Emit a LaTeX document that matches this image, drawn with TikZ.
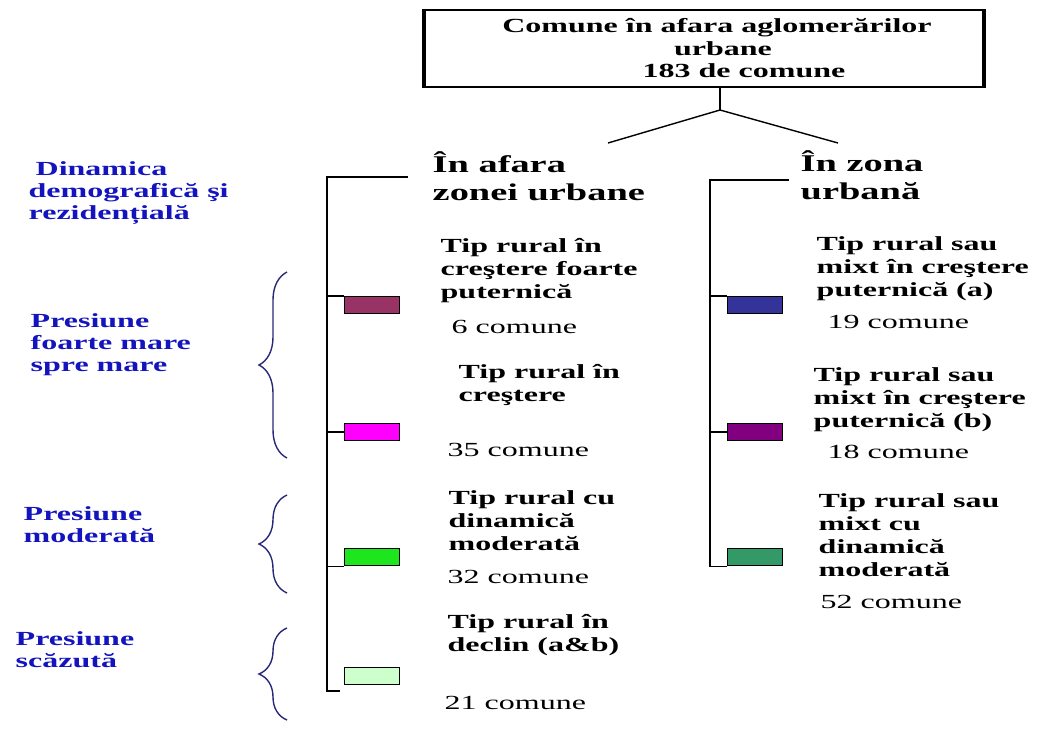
\documentclass[tikz,border=0pt]{standalone}
\usepackage{fontspec}
\setmainfont{Liberation Serif}[FakeStretch=1.6]
\usetikzlibrary{decorations.pathreplacing}
\definecolor{presblue}{RGB}{20,20,190}
\definecolor{bracecol}{RGB}{40,40,120}
\definecolor{cmaro}{RGB}{153,51,102}
\definecolor{cmag}{RGB}{255,0,255}
\definecolor{cgreen}{RGB}{30,230,30}
\definecolor{clight}{RGB}{204,255,204}
\definecolor{cblue}{RGB}{51,51,153}
\definecolor{cpurp}{RGB}{128,0,128}
\definecolor{csea}{RGB}{51,153,102}
\tikzset{tip/.style={align=left,anchor=west,inner sep=0pt,font=\bfseries\fontsize{20}{23}\selectfont}}
\tikzset{nr/.style={anchor=west,inner sep=0pt,font=\fontsize{20}{23}\selectfont}}
\tikzset{head/.style={align=left,anchor=west,inner sep=0pt,font=\bfseries\fontsize{24}{28}\selectfont}}
\tikzset{pres/.style={align=left,anchor=west,inner sep=0pt,text=presblue,font=\bfseries\fontsize{20}{22}\selectfont}}
\tikzset{leg/.style={draw=black,line width=1.2pt,minimum width=55pt,minimum height=17pt,inner sep=0pt,anchor=north west}}
\tikzset{acc/.style={decorate,decoration={brace,amplitude=28pt},draw=bracecol,line width=1.4pt}}
\tikzset{topbox/.style={draw,line width=1.6pt,minimum width=558pt,minimum height=77pt,inner sep=0pt,align=center,font=\bfseries\fontsize{20}{22.5}\selectfont}}

\begin{document}
\begin{tikzpicture}[x=1pt,y=-1pt,line width=1.4pt]
        \useasboundingbox (0,0) rectangle (1046,729);

        \node[topbox] (box) at (704,48.5) {\hspace*{26pt}Comune în afara aglomerărilor\\ \hspace*{38pt}urbane\\ \hspace*{80pt}183 de comune};
        \draw[line width=3.5pt] (box.north west) -- (box.south west);
        \draw[line width=3.5pt] (box.north east) -- (box.south east);

        \coordinate (fork) at (720,110);
        \coordinate (e1) at (608,143);
        \coordinate (e2) at (838,143);
        \draw[line width=2pt] (fork |- box.south) -- (fork);
        \draw (e1) -- (fork) -- (e2);

        \node[head] (h1) at (432,176) {În afara\\zonei urbane};
        \node[head] (h2) at (800,175) {În zona\\urbană};

        % left column
        \coordinate (lh) at (408,177);
        \coordinate (lt) at (327,177);
        \coordinate (lb) at (327,691);
        \node[leg,fill=cmaro] (k1) at (344,296) {};
        \node[leg,fill=cmag] (k2) at (344,423) {};
        \node[leg,fill=cgreen] (k3) at (344,548) {};
        \node[leg,fill=clight] (k4) at (344,667) {};
        \draw (lh) -- (lt) -- (lb) -- ++(13,0);
        \draw (lt |- k1.north west) -- (k1.north west);
        \draw (lt |- k2.west) -- (k2.west);
        \draw (lt |- k3.south west) -- (k3.south west);

        \node[tip] (t1) at (440,271) {Tip rural în\\creştere foarte\\puternică};
        \node[nr] (n1) at (451,327) {6 comune};
        \node[tip] (t2) at (458,385) {Tip rural în\\creştere};
        \node[nr] (n2) at (447,450) {35 comune};
        \node[tip] (t3) at (448,521) {Tip rural cu\\dinamică\\moderată};
        \node[nr] (n3) at (447,577) {32 comune};
        \node[tip] (t4) at (447,635) {Tip rural în\\declin (a\&b)};
        \node[nr] (n4) at (444,703) {21 comune};

        % right column
        \coordinate (rh) at (789,180);
        \coordinate (rt) at (710,180);
        \node[leg,fill=cblue] (r1) at (727,296) {};
        \node[leg,fill=cpurp] (r2) at (727,423) {};
        \node[leg,fill=csea] (r3) at (727,548) {};
        \draw (rh) -- (rt) -- (rt |- r3.south west) -- (r3.south west);
        \draw (rt |- r1.north west) -- (r1.north west);
        \draw (rt |- r2.west) -- (r2.west);

        \node[tip] (u1) at (816,269) {Tip rural sau\\mixt în creştere\\puternică (a)};
        \node[nr] (m1) at (827,322) {19 comune};
        \node[tip] (u2) at (813,400) {Tip rural sau\\mixt în creştere\\puternică (b)};
        \node[nr] (m2) at (827,452) {18 comune};
        \node[tip] (u3) at (818,535) {Tip rural sau\\mixt cu\\dinamică\\moderată};
        \node[nr] (m3) at (820,602) {52 comune};

        % pressure labels
        \node[pres] (p0) at (28,193) {\hspace*{7pt}Dinamica\\demografică şi\\rezidențială};
        \node[pres] (p1) at (30,345) {Presiune\\foarte mare\\spre mare};
        \node[pres] (p2) at (23,525) {Presiune\\moderată};
        \node[pres] (p3) at (15,650) {Presiune\\scăzută};

        \draw[acc] (287,458) -- (287,272);
        \draw[acc] (287,593) -- (287,495);
        \draw[acc] (287,720) -- (287,628);
\end{tikzpicture}
\end{document}
